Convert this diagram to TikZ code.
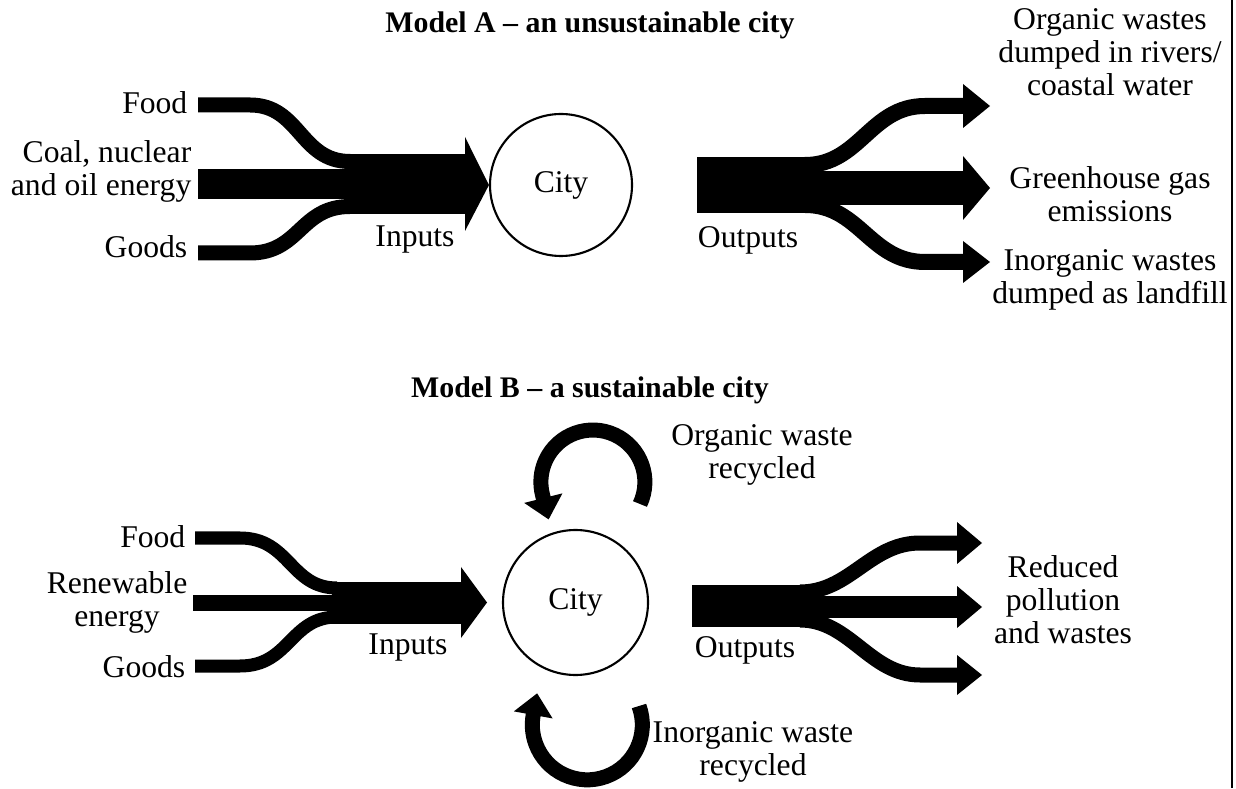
\documentclass[tikz,border=0pt]{standalone}
\usepackage{fontspec}
\setmainfont{Liberation Serif}
\usetikzlibrary{arrows.meta}

\begin{document}
\begin{tikzpicture}[font=\fontsize{9}{9.4}\selectfont,
  city/.style={draw,circle,line width=.6pt,minimum size=1.42cm,inner sep=0},
  lbl/.style={align=center,inner sep=0},
  title/.style={inner sep=0,font=\fontsize{8.5}{9}\selectfont\bfseries},
  band/.style={line width=#1,line cap=butt},
  loop/.style={line width=.15cm,-{Triangle[length=.22cm,width=.38cm]}}]
\useasboundingbox(0,0)rectangle(12.36,7.88);
\draw[line width=.6pt](12.32,0)--(12.32,7.88);
%model A
\node[title](titleA)at(5.90,7.63){Model A -- an unsustainable city};
\node[city](cityA)at(5.61,6.03){City};
\node[lbl,anchor=east](foodA)at(1.88,6.85){Food};
\node[lbl,anchor=east,align=right](coal)at(1.92,6.17){Coal, nuclear\\and oil energy};
\node[lbl,anchor=east](goodsA)at(1.88,5.41){Goods};
\node[lbl](inA)at(4.15,5.48){Inputs};
\node[lbl](outA)at(7.48,5.48){Outputs};
\node[lbl](organicA)at(11.10,7.36){Organic wastes\\dumped in rivers/\\coastal water};
\node[lbl](ghg)at(11.10,5.94){Greenhouse gas\\emissions};
\node[lbl](inorganicA)at(11.10,5.08){Inorganic wastes\\dumped as landfill};
%inputs
\draw[band=.15cm](1.98,6.83)--(2.50,6.83)..controls(3.00,6.83)and(3.00,6.265)..(3.50,6.265);
\draw[band=.30cm](1.98,6.04)--(3.50,6.04);
\draw[band=.15cm](1.98,5.35)--(2.50,5.35)..controls(3.00,5.35)and(3.00,5.815)..(3.50,5.815);
\draw[band=.60cm](3.45,6.04)--(4.66,6.04);
\fill(4.65,6.51)--(cityA.west)--(4.65,5.57)--cycle;
%outputs
\draw[band=.56cm](6.97,6.03)--(8.15,6.03);
\draw[band=.16cm](8.05,6.23)..controls(8.60,6.23)and(8.70,6.82)..(9.25,6.82)--(9.64,6.82);
\draw[band=.34cm](8.05,6.00)--(9.64,6.00);
\draw[band=.16cm](8.05,5.83)..controls(8.60,5.83)and(8.70,5.26)..(9.25,5.26)--(9.64,5.26);
\fill(9.63,7.04)--(9.90,6.82)--(9.63,6.60)--cycle;
\fill(9.63,6.32)--(9.90,6.00)--(9.63,5.68)--cycle;
\fill(9.63,5.47)--(9.90,5.26)--(9.63,5.05)--cycle;
%model B
\node[title](titleB)at(5.90,3.98){Model B -- a sustainable city};
\node[city,minimum size=1.45cm](cityB)at(5.755,1.855){City};
\node[lbl,anchor=east](foodB)at(1.86,2.51){Food};
\node[lbl,anchor=east](renew)at(1.88,1.86){Renewable\\energy};
\node[lbl,anchor=east](goodsB)at(1.86,1.21){Goods};
\node[lbl](inB)at(4.08,1.40){Inputs};
\node[lbl](outB)at(7.45,1.38){Outputs};
\node[lbl](reduced)at(10.63,1.88){Reduced\\pollution\\and wastes};
\node[lbl](organicB)at(7.62,3.33){Organic waste\\recycled};
\node[lbl](inorganicB)at(7.53,0.36){Inorganic waste\\recycled};
%inputs
\draw[band=.13cm](1.95,2.50)--(2.40,2.50)..controls(2.90,2.50)and(2.90,2.00)..(3.37,2.00);
\draw[band=.16cm](1.93,1.855)--(3.37,1.855);
\draw[band=.13cm](1.95,1.22)--(2.40,1.22)..controls(2.90,1.22)and(2.90,1.71)..(3.37,1.71);
\draw[band=.42cm](3.32,1.855)--(4.62,1.855);
\fill(4.61,2.21)--(4.87,1.855)--(4.61,1.50)--cycle;
%outputs
\draw[band=.42cm](6.92,1.82)--(8.10,1.82);
\draw[band=.15cm](8.00,1.96)..controls(8.50,1.96)and(8.70,2.45)..(9.20,2.45)--(9.58,2.45);
\draw[band=.22cm](8.00,1.81)--(9.58,1.81);
\draw[band=.15cm](8.00,1.68)..controls(8.50,1.68)and(8.70,1.13)..(9.20,1.13)--(9.58,1.13);
\fill(9.57,2.66)--(9.82,2.45)--(9.57,2.24)--cycle;
\fill(9.57,2.02)--(9.82,1.81)--(9.57,1.60)--cycle;
\fill(9.57,1.33)--(9.82,1.13)--(9.57,0.93)--cycle;
%recycling
\draw[loop](6.40,2.84)arc[start angle=-25,end angle=195,radius=.52]--++(.06,-.24);
\draw[loop](6.39,0.82)arc[start angle=20,end angle=-190,radius=.55]--++(.04,.22);
\end{tikzpicture}
\end{document}
